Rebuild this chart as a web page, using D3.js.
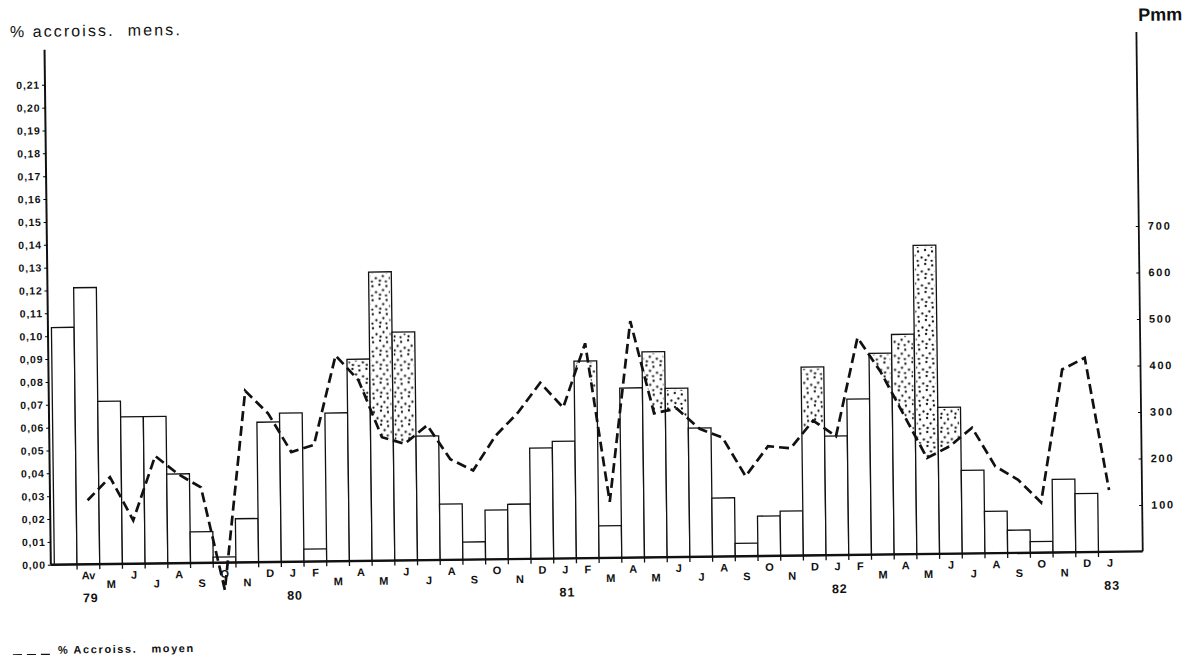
<!DOCTYPE html>
<html>
<head>
<meta charset="utf-8">
<script src="https://cdn.jsdelivr.net/npm/d3@7"></script>
<style>
  body { margin: 0; background: #fff; }
  svg { display: block; font-family: "Liberation Sans", Arial, sans-serif; }
</style>
</head>
<body>
<svg id="chart" width="1193" height="655"></svg>
<script>
/***************************************************************
 * Data (Mar 79 .. Jan 83)
 ***************************************************************/

// month letters under the bars (first bar has no label)
const months = ["", "Av", "M", "J", "J", "A", "S", "O", "N", "D",
  "J", "F", "M", "A", "M", "J", "J", "A", "S", "O", "N", "D",
  "J", "F", "M", "A", "M", "J", "J", "A", "S", "O", "N", "D",
  "J", "F", "M", "A", "M", "J", "J", "A", "S", "O", "N", "D",
  "J"];

// year labels and the month they sit under
const years = ["79", "80", "81", "82", "83"];
const yearMonth = [1, 10, 22, 34, 46];

// monthly rainfall, Pmm (bars, right axis)
const precip = [510, 595, 350, 316, 316, 192, 67, 12, 94, 301,
  320, 27, 319, 434, 621, 491, 267, 120, 38, 106, 118, 238,
  252, 424, 69, 365, 442, 363, 277, 126, 28, 86, 96, 405,
  256, 335, 433, 473, 664, 315, 179, 90, 49, 24, 157, 126,
  null];

// mean monthly growth, % (dashed line, left axis)
const growth = [null, 0.028, 0.038, 0.019, 0.047, 0.039, 0.033, -0.012, 0.075, 0.065,
  0.048, 0.051, 0.090, 0.079, 0.054, 0.051, 0.059, 0.044, 0.039, 0.054, 0.064, 0.077,
  0.066, 0.094, 0.0245, 0.1035, 0.063, 0.065, 0.056, 0.052, 0.035, 0.048, 0.047, 0.059,
  0.052, 0.095, 0.080, 0.061, 0.042, 0.047, 0.055, 0.038, 0.032, 0.022, 0.080, 0.085,
  0.027];

// bars whose part above the dashed line is stippled
const stippled = [13, 14, 15, 23, 26, 27, 33, 36, 37, 38, 39];

const leftTicks = d3.range(22).map(i => i / 100);
const rightTicks = [100, 200, 300, 400, 500, 600, 700];

/***************************************************************
 * Layout
 ***************************************************************/
const svg = d3.select("#chart");
const baseY = 558;
const leftX = 48, rightX = 1140;

// the scanned figure is turned a little, so is the whole drawing
const g = svg.append("g").attr("transform", "rotate(-0.7, 600, 330)");

const x = d3.scaleBand()
  .domain(d3.range(months.length))
  .range([51.5, 51.5 + 22.7 * months.length])
  .padding(0);

const yL = d3.scaleLinear().domain([0, 0.21]).range([baseY, 78]);
const yR = d3.scaleLinear().domain([0, 700]).range([baseY, 232.5]);

const cx = i => x(i) + x.bandwidth() / 2;

// stipple pattern (sparse, fairly heavy dots like the print)
const defs = svg.append("defs");
const pat = defs.append("pattern")
  .attr("id", "dots")
  .attr("patternUnits", "userSpaceOnUse")
  .attr("width", 14).attr("height", 14);
[[2, 2], [9, 3.5], [5.5, 7.5], [12.5, 9.5], [2.5, 12], [8.5, 12.8]].forEach(p => {
  pat.append("circle").attr("cx", p[0]).attr("cy", p[1]).attr("r", 1.15).attr("fill", "#111");
});

// region above the dashed line, used to clip the stippling
const idx = d3.range(months.length);
const aboveArea = d3.area()
  .defined(i => growth[i] != null)
  .x(i => cx(i))
  .y0(0)
  .y1(i => yL(growth[i]));
defs.append("clipPath").attr("id", "above-line")
  .append("path").attr("d", aboveArea(idx));

/***************************************************************
 * Bars
 ***************************************************************/
const barIdx = idx.filter(i => precip[i] != null);

g.selectAll("rect.bar")
  .data(barIdx)
  .enter().append("rect")
  .attr("class", "bar")
  .attr("x", i => x(i))
  .attr("y", i => yR(precip[i]))
  .attr("width", x.bandwidth())
  .attr("height", i => baseY - yR(precip[i]))
  .attr("fill", "#fff")
  .attr("stroke", "#111")
  .attr("stroke-width", 1.3);

g.selectAll("rect.stip")
  .data(stippled)
  .enter().append("rect")
  .attr("class", "stip")
  .attr("x", i => x(i) + 1.5)
  .attr("y", i => yR(precip[i]) + 1.5)
  .attr("width", x.bandwidth() - 3)
  .attr("height", i => baseY - yR(precip[i]) - 3)
  .attr("fill", "url(#dots)")
  .attr("clip-path", "url(#above-line)");

/***************************************************************
 * Axes
 ***************************************************************/
// left axis line and ticks
g.append("line")
  .attr("x1", leftX).attr("x2", leftX)
  .attr("y1", 43).attr("y2", baseY)
  .attr("stroke", "#111").attr("stroke-width", 2);

const axL = g.append("g")
  .attr("transform", `translate(${leftX},0)`)
  .call(d3.axisLeft(yL)
    .tickValues(leftTicks)
    .tickSize(3)
    .tickPadding(2)
    .tickFormat(d => d3.format(".2f")(d).replace(".", ",")));
axL.select(".domain").remove();
axL.selectAll("text")
  .attr("font-size", 10.5)
  .attr("font-weight", "bold")
  .attr("letter-spacing", 0.8)
  .attr("font-family", "'Liberation Sans', Arial, sans-serif")
  .attr("fill", "#111");

// right axis
g.append("line")
  .attr("x1", rightX).attr("x2", rightX)
  .attr("y1", 38.5).attr("y2", baseY)
  .attr("stroke", "#111").attr("stroke-width", 1.8);

const axR = g.append("g")
  .attr("transform", `translate(${rightX},0)`)
  .call(d3.axisRight(yR)
    .tickValues(rightTicks)
    .tickSize(-3)
    .tickPadding(9));
axR.select(".domain").remove();
axR.selectAll("text")
  .attr("font-size", 11)
  .attr("font-weight", "bold")
  .attr("letter-spacing", 1.8)
  .attr("font-family", "'Liberation Sans', Arial, sans-serif")
  .attr("fill", "#111");

// bottom axis with a small tick at each bar boundary
g.append("line")
  .attr("x1", leftX).attr("x2", rightX)
  .attr("y1", baseY).attr("y2", baseY)
  .attr("stroke", "#111").attr("stroke-width", 2.4);

g.selectAll("line.xtick")
  .data(d3.range(1, months.length))
  .enter().append("line")
  .attr("class", "xtick")
  .attr("x1", i => x(i)).attr("x2", i => x(i))
  .attr("y1", baseY).attr("y2", baseY + 5)
  .attr("stroke", "#111").attr("stroke-width", 1.3);

// month letters staggered: Mar, May, Jul, Sep, Nov sit lower
const lowMonths = [2, 4, 6, 8, 10];
g.selectAll("text.month")
  .data(idx.filter(i => months[i] !== ""))
  .enter().append("text")
  .attr("class", "month")
  .attr("x", i => cx(i))
  .attr("y", i => baseY + (lowMonths.includes((i + 2) % 12) ? 24 : 15))
  .attr("text-anchor", "middle")
  .attr("font-size", 11)
  .attr("font-weight", "bold")
  .attr("fill", "#111")
  .text(i => months[i]);

g.selectAll("text.year")
  .data(years)
  .enter().append("text")
  .attr("class", "year")
  .attr("x", (d, k) => cx(yearMonth[k]) + 2)
  .attr("y", baseY + 38)
  .attr("text-anchor", "middle")
  .attr("font-size", 12.5)
  .attr("font-weight", "bold")
  .attr("letter-spacing", 1)
  .attr("fill", "#111")
  .text(d => d);

/***************************************************************
 * Dashed growth line
 ***************************************************************/
const line = d3.line()
  .defined(i => growth[i] != null)
  .x(i => cx(i))
  .y(i => yL(growth[i]));

g.append("path")
  .attr("d", line(idx))
  .attr("fill", "none")
  .attr("stroke", "#111")
  .attr("stroke-width", 2.7)
  .attr("stroke-dasharray", "10,5");

/***************************************************************
 * Titles and legend
 ***************************************************************/
g.append("text")
  .attr("x", 13.5).attr("y", 30)
  .attr("font-size", 16)
  .attr("letter-spacing", 2.1)
  .style("white-space", "pre")
  .attr("fill", "#111")
  .text("% accroiss.  mens.");

g.append("text")
  .attr("x", 1142).attr("y", 27.5)
  .attr("font-size", 18)
  .attr("font-weight", "bold")
  .attr("fill", "#111")
  .text("Pmm");

g.append("line")
  .attr("x1", 9).attr("x2", 51)
  .attr("y1", 648).attr("y2", 648)
  .attr("stroke", "#111").attr("stroke-width", 2)
  .attr("stroke-dasharray", "9,5");

g.append("text")
  .attr("x", 54).attr("y", 647)
  .attr("font-size", 11)
  .attr("font-weight", "bold")
  .attr("letter-spacing", 1.6)
  .style("white-space", "pre")
  .attr("fill", "#111")
  .text("% Accroiss.   moyen");
</script>
</body>
</html>
